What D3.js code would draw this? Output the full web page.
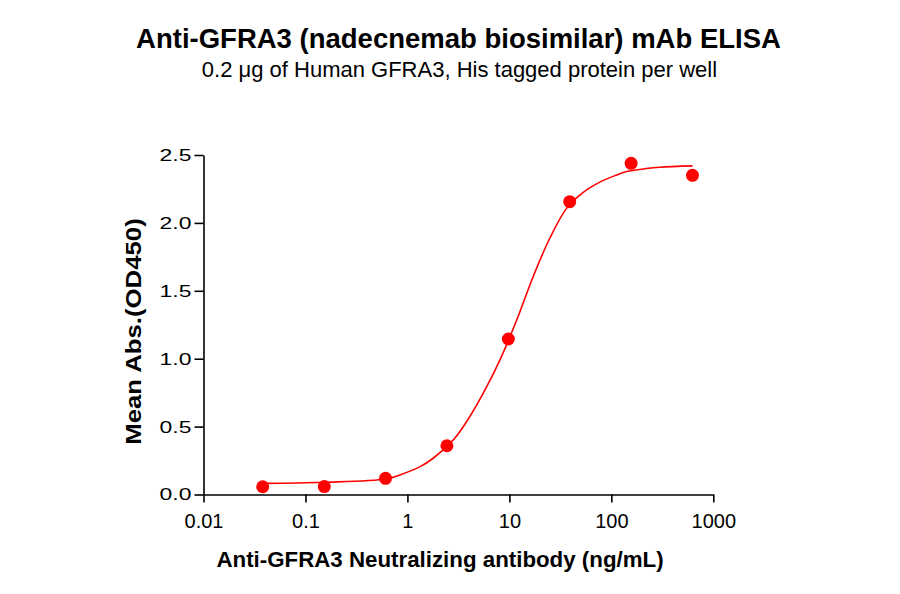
<!DOCTYPE html>
<html>
<head>
<meta charset="utf-8">
<script src="https://cdn.jsdelivr.net/npm/d3@7"></script>
<style>
  body { margin: 0; background: #fff; }
  svg text { font-family: Arial, "Liberation Sans", sans-serif; fill: #000; }
</style>
</head>
<body>
<div id="chart"></div>
<script>
// measured points, 4-fold dilution from 625 ng/mL
var concentrations = [0.0381, 0.153, 0.61, 2.44, 9.77, 39.06, 156.25, 625];
var absorbance = [0.057, 0.058, 0.119, 0.359, 1.145, 2.156, 2.439, 2.35];

// fitted curve
var fitX = [0.0381, 0.15, 0.615, 0.843, 1.33, 1.79, 2.81, 3.8, 5.53, 8.07, 11.8, 17.1, 24.9, 36.4, 53.0, 77.1, 110, 141, 220, 299, 625];
var fitY = [0.082, 0.09, 0.114, 0.144, 0.205, 0.267, 0.401, 0.536, 0.745, 0.99, 1.285, 1.604, 1.887, 2.107, 2.225, 2.3, 2.35, 2.378, 2.4, 2.41, 2.42];

var xTicks = [0.01, 0.1, 1, 10, 100, 1000];
var xTickLabels = ['0.01', '0.1', '1', '10', '100', '1000'];
var yTicks = [0, 0.5, 1, 1.5, 2, 2.5];

const W = 900, H = 594;
const RED = '#ff0000';

var svg = d3.select('#chart').append('svg')
  .attr('width', W)
  .attr('height', H);

var x = d3.scaleLog().domain([0.01, 1000]).range([203.5, 713.3]);
var y = d3.scaleLinear().domain([0, 2.5]).range([494.5, 155]);

// x axis
var xAxis = svg.append('g')
  .attr('transform', `translate(0,${y(0)})`)
  .call(d3.axisBottom(x)
    .tickValues(xTicks)
    .tickFormat((d, i) => xTickLabels[i])
    .tickSize(8)
    .tickSizeOuter(0)
    .tickPadding(11));

// y axis
var yAxis = svg.append('g')
  .attr('transform', `translate(${x(0.01)},0)`)
  .call(d3.axisLeft(y)
    .tickValues(yTicks)
    .tickFormat(d3.format('.1f'))
    .tickSize(9)
    .tickSizeOuter(0)
    .tickPadding(3));

[xAxis, yAxis].forEach((g) => {
  g.select('.domain').attr('stroke', '#000').attr('stroke-width', 1.6);
  g.selectAll('.tick line').attr('stroke', '#000').attr('stroke-width', 1.6);
  g.selectAll('.tick text')
    .attr('font-family', 'Arial, "Liberation Sans", sans-serif')
    .attr('fill', '#000');
});
xAxis.selectAll('.tick text').attr('font-size', 20);
// y labels in the reference are drawn wide
yAxis.selectAll('.tick text')
  .attr('font-size', 17)
  .attr('x', null)
  .attr('transform', 'translate(-12,0) scale(1.35,1)');

// fitted curve
var fitPts = fitX.map((d, i) => [d, fitY[i]]);
var line = d3.line()
  .x((d) => x(d[0]))
  .y((d) => y(d[1]))
  .curve(d3.curveCatmullRom.alpha(0.5));

svg.append('path')
  .datum(fitPts)
  .attr('d', line)
  .attr('fill', 'none')
  .attr('stroke', RED)
  .attr('stroke-width', 1.6);

// data points
svg.selectAll('circle.pt')
  .data(concentrations)
  .enter()
  .append('circle')
  .attr('class', 'pt')
  .attr('cx', (d) => x(d))
  .attr('cy', (d, i) => y(absorbance[i]))
  .attr('r', 6.5)
  .attr('fill', RED);

// titles
svg.append('text')
  .attr('x', 458.5)
  .attr('y', 47.7)
  .attr('text-anchor', 'middle')
  .attr('font-size', 27.5)
  .attr('font-weight', 'bold')
  .text('Anti-GFRA3 (nadecnemab biosimilar) mAb ELISA');

svg.append('text')
  .attr('x', 459.5)
  .attr('y', 76.7)
  .attr('text-anchor', 'middle')
  .attr('font-size', 22)
  .text('0.2 \u03bcg of Human GFRA3, His tagged protein per well');

svg.append('text')
  .attr('x', 440)
  .attr('y', 566.7)
  .attr('text-anchor', 'middle')
  .attr('font-size', 22.3)
  .attr('font-weight', 'bold')
  .text('Anti-GFRA3 Neutralizing antibody (ng/mL)');

svg.append('text')
  .attr('transform', 'translate(141,331.5) rotate(-90) scale(1.17,1)')
  .attr('text-anchor', 'middle')
  .attr('font-size', 22)
  .attr('font-weight', 'bold')
  .text('Mean Abs.(OD450)');
</script>
</body>
</html>
